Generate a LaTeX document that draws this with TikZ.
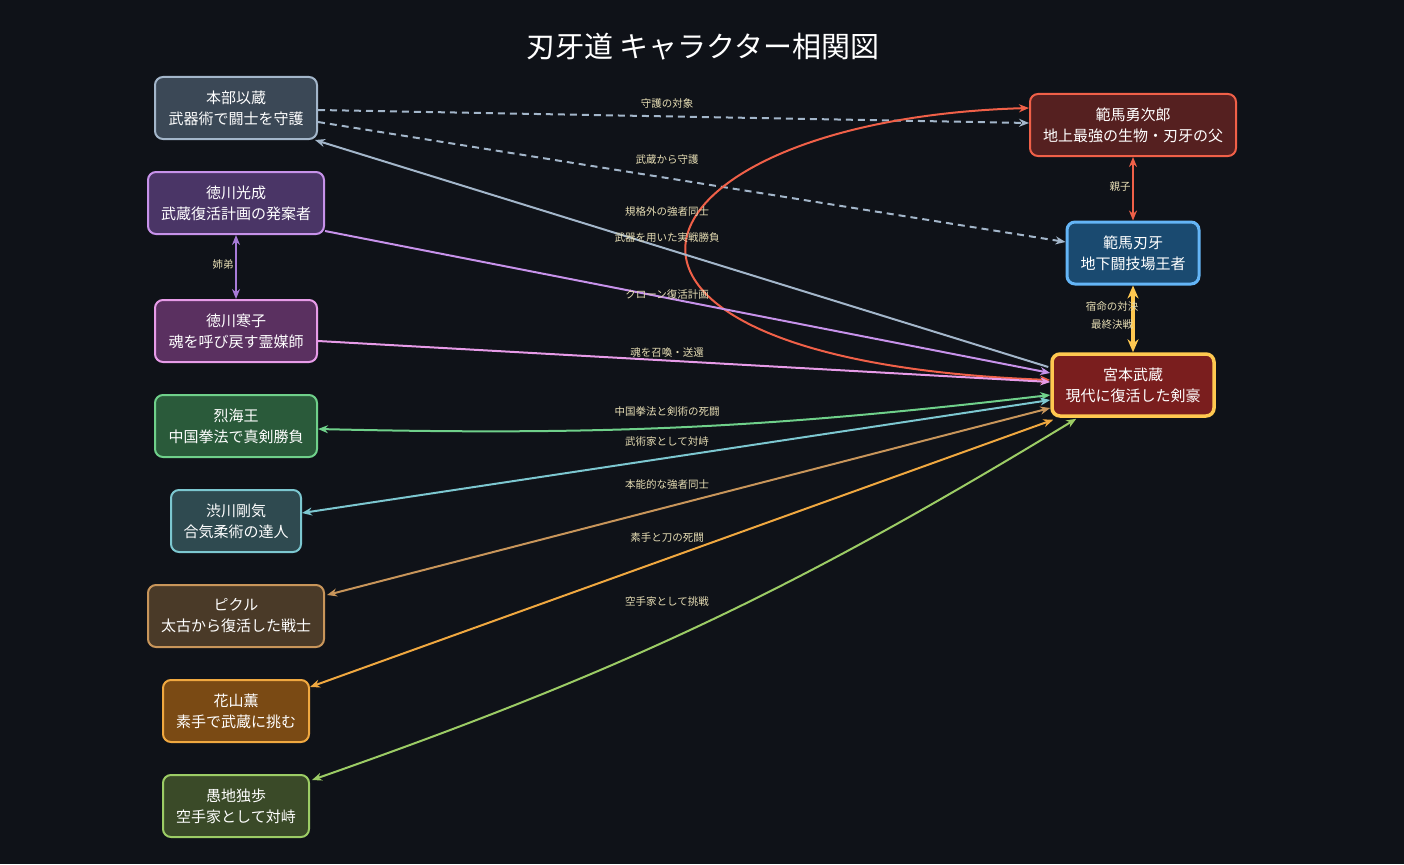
\documentclass[tikz,border=0pt]{standalone}
\usepackage{fontspec}
\setmainfont{Noto Sans CJK JP}
\usetikzlibrary{arrows.meta}
\definecolor{bg}{HTML}{0F1218}
\definecolor{lab}{HTML}{E6DDB4}
\definecolor{fmo}{HTML}{3B4856}\definecolor{cmo}{HTML}{A3B6CA}
\definecolor{fmi}{HTML}{4A3566}\definecolor{cmi}{HTML}{C792EA}
\definecolor{fka}{HTML}{5A3060}\definecolor{cka}{HTML}{E79BE8}
\definecolor{fre}{HTML}{2A5A3A}\definecolor{cre}{HTML}{6FD08A}
\definecolor{fsh}{HTML}{2F4A50}\definecolor{csh}{HTML}{7CC7D0}
\definecolor{fpi}{HTML}{4A3A28}\definecolor{cpi}{HTML}{C8955A}
\definecolor{fha}{HTML}{7A4A14}\definecolor{cha}{HTML}{F0A840}
\definecolor{fdo}{HTML}{3A4A28}\definecolor{cdo}{HTML}{9CCC65}
\definecolor{fyu}{HTML}{552020}\definecolor{cyu}{HTML}{F06048}
\definecolor{fba}{HTML}{1A4A70}\definecolor{cba}{HTML}{64B5F6}
\definecolor{fmu}{HTML}{7A1E1E}\definecolor{cmu}{HTML}{FFC850}
\definecolor{csis}{HTML}{A87BD8}
\begin{document}
\begin{tikzpicture}[x=1pt,y=-1pt,
  box/.style={draw,rounded corners=8pt,line width=2pt,minimum height=62pt,align=center,text=white,font=\fontsize{15}{21}\selectfont},
  el/.style={text=lab,font=\fontsize{10.5}{13}\selectfont,inner sep=1pt},
  ar/.style={line width=2pt,-{Stealth[length=10pt,width=8pt]}},
  bi/.style={line width=2pt,{Stealth[length=10pt,width=8pt]}-{Stealth[length=10pt,width=8pt]}}]
\fill[bg] (0,0) rectangle (1404,864);
\useasboundingbox (0,0) rectangle (1404,864);
\node[text=white,font=\fontsize{29}{34}\selectfont] (title) at (703,47) {刃牙道 キャラクター相関図};
\node[box,fill=fmo,draw=cmo,minimum width=162pt] (motobe) at (236,108) {本部以蔵\\武器術で闘士を守護};
\node[box,fill=fmi,draw=cmi,minimum width=176pt] (mitsu) at (236,203) {徳川光成\\武蔵復活計画の発案者};
\node[box,fill=fka,draw=cka,minimum width=162pt] (kanko) at (236,331) {徳川寒子\\魂を呼び戻す霊媒師};
\node[box,fill=fre,draw=cre,minimum width=162pt] (retsu) at (236,426) {烈海王\\中国拳法で真剣勝負};
\node[box,fill=fsh,draw=csh,minimum width=130pt] (shibu) at (236,521) {渋川剛気\\合気柔術の達人};
\node[box,fill=fpi,draw=cpi,minimum width=176pt] (pickle) at (236,616) {ピクル\\太古から復活した戦士};
\node[box,fill=fha,draw=cha,minimum width=146pt] (hana) at (236,711) {花山薫\\素手で武蔵に挑む};
\node[box,fill=fdo,draw=cdo,minimum width=146pt] (doppo) at (236,806) {愚地独歩\\空手家として対峙};
\node[box,fill=fyu,draw=cyu,minimum width=206pt] (yuji) at (1133,125) {範馬勇次郎\\地上最強の生物・刃牙の父};
\node[box,fill=fba,draw=cba,line width=3pt,minimum width=132pt] (baki) at (1133,253) {範馬刃牙\\地下闘技場王者};
\node[box,fill=fmu,draw=cmu,line width=3.5pt,minimum width=162pt] (musa) at (1133,385) {宮本武蔵\\現代に復活した剣豪};
% edges
\draw[ar,dash pattern=on 7pt off 5pt,draw=cmo] ([yshift=-2pt]motobe.east) -- ([yshift=2pt]yuji.west);
\node[el] at (667,104) {守護の対象};
\draw[ar,dash pattern=on 7pt off 5pt,draw=cmo] ([yshift=-14pt]motobe.east) -- ([yshift=11pt]baki.west);
\node[el] at (667,160) {武蔵から守護};
\draw[bi,draw=cyu] ([yshift=5pt]musa.west) .. controls (520,360) and (620,120) .. ([yshift=17pt]yuji.west);
\node[el] at (667,212) {規格外の強者同士};
\draw[ar,draw=cmo] ([yshift=18pt,xshift=-2pt]musa.west) -- ([xshift=-3pt]motobe.south east);
\node[el] at (667,238) {武器を用いた実戦勝負};
\draw[ar,draw=cmi] ([yshift=-28pt]mitsu.east) -- ([yshift=12pt]musa.west);
\node[el] at (667,295) {クローン復活計画};
\draw[ar,draw=cka] ([yshift=-10pt]kanko.east) -- ([yshift=3pt]musa.west);
\node[el] at (667,353) {魂を召喚・送還};
\draw[bi,draw=cre] ([yshift=-3pt]retsu.east) to[bend right=4] ([yshift=-10pt]musa.west);
\node[el] at (667,412) {中国拳法と剣術の死闘};
\draw[bi,draw=csh] ([yshift=8pt]shibu.east) -- ([yshift=-15pt]musa.west);
\node[el] at (667,442) {武術家として対峙};
\draw[bi,draw=cpi] ([yshift=21pt,xshift=2pt]pickle.east) -- ([yshift=-23pt]musa.west);
\node[el] at (667,485) {本能的な強者同士};
\draw[bi,draw=cha] ([yshift=-8pt]hana.north east) -- ([xshift=3pt,yshift=-2pt]musa.south west);
\node[el] at (667,538) {素手と刀の死闘};
\draw[bi,draw=cdo] ([yshift=26pt,xshift=2pt]doppo.east) to[bend right=6] ([xshift=26pt,yshift=-1pt]musa.south west);
\node[el] at (667,602) {空手家として挑戦};
\draw[bi,draw=cyu] (yuji.south) -- (baki.north);
\node[el] at (1120,187) {親子};
\draw[draw=cmu,line width=3.5pt,{Stealth[length=13pt,width=11pt]}-{Stealth[length=13pt,width=11pt]}] (baki.south) -- (musa.north);
\node[el] at (1112,307) {宿命の対決};
\node[el] at (1112,325) {最終決戦};
\draw[bi,draw=csis] (mitsu.south) -- (kanko.north);
\node[el] at (223,265) {姉弟};
\end{tikzpicture}
\end{document}
